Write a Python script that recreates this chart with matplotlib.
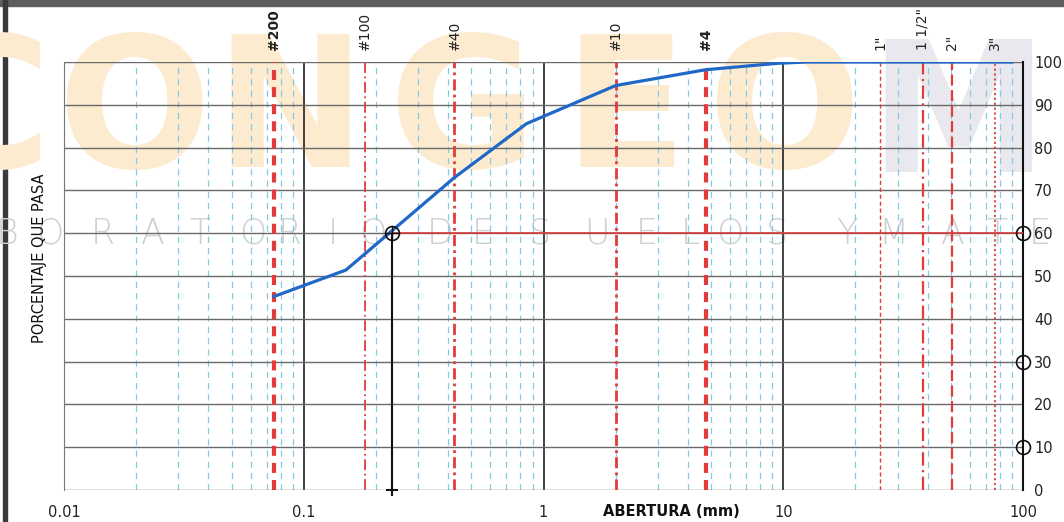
import matplotlib
matplotlib.use("Agg")
import matplotlib.pyplot as plt
import numpy as np

# grain size curve
abertura = [0.075, 0.15, 0.425, 0.85, 2.0, 4.75, 9.5, 12.5, 19.0, 25.0, 37.5, 50.0, 75.0, 90.0]
pasa = [45.2, 51.4, 73.0, 85.6, 94.5, 98.2, 99.7, 100, 100, 100, 100, 100, 100, 100]

# D60 and the right-hand markers
d60 = 0.233
p60 = 60
marcas_der = [60, 30, 10]

# sieves drawn as red lines
tamiz_nombre = ["#200", "#100", "#40", "#10", "#4", '1"', '1 1/2"', '2"', '3"']
tamiz_mm = [0.075, 0.18, 0.425, 2.0, 4.75, 25.4, 38.1, 50.8, 76.2]
tamiz_lw = [3.0, 1.3, 2.0, 2.0, 3.0, 1.0, 1.6, 1.6, 1.3]
tamiz_ls = [(0, (2.4, 1.7)), (0, (6, 2, 1, 2)), (0, (4, 1.5, 1, 1.5)), (0, (4, 1.5, 1, 1.5)),
            (0, (2.4, 1.7)), (0, (3, 2)), (0, (6, 2, 1, 2)), (0, (5, 2)), (0, (1.2, 1.5))]
tamiz_bold = [True, False, False, False, True, False, False, False, False]

x_ticks = [0.01, 0.1, 1, 10, 100]
x_labels = ["0.01", "0.1", "1", "10", "100"]
y_ticks = list(range(0, 101, 10))

W, H = 1064, 522
fig = plt.figure(figsize=(W / 100, H / 100), dpi=100)
fig.patch.set_facecolor("white")

# background axes for the watermark of the scanned sheet
bg = fig.add_axes([0, 0, 1, 1], zorder=-1)
bg.set_xlim(0, W)
bg.set_ylim(H, 0)
bg.axis("off")

wm_letras = ["C", "O", "N", "G", "E", "O"]
wm_x = [-15, 135, 290, 463, 625, 785]
for ch, xx in zip(wm_letras, wm_x):
    bg.text(xx, 167, ch, fontsize=130, fontweight="bold", color="#fdebd0",
            ha="center", va="baseline", family="DejaVu Sans")
bg.text(958, 172, "M", fontsize=130, fontweight="bold", color="#e8e8ee",
        ha="center", va="baseline", family="DejaVu Sans")

lab_letras = list("BORATORIODESUELOSYMATE")
lab_x = [7, 50, 103, 153, 200, 253, 290, 333, 373, 440, 483, 540, 597, 647, 690, 730, 777,
         847, 893, 953, 997, 1040]
for ch, xx in zip(lab_letras, lab_x):
    bg.text(xx, 234, ch, fontsize=25, color="#d0d0d0", ha="center", va="center",
            family="DejaVu Sans", fontweight="light")

# frame of the sheet
bg.add_patch(plt.Rectangle((0, 0), W, 6, color="#5e5e5e"))
bg.add_patch(plt.Rectangle((3, 0), 4, H, color="#3a3a3a"))

ax = fig.add_axes([64 / W, 1 - 490 / H, (1023 - 64) / W, 428 / H], zorder=1)
ax.set_facecolor("none")
ax.set_xscale("log")
ax.set_xlim(0.01, 100)
ax.set_ylim(0, 100)

# light blue minor lines
for dec in [0.01, 0.1, 1, 10]:
    for m in range(2, 10):
        ax.axvline(dec * m, color="#86c9e4", lw=0.9, ls=(0, (5, 4)), zorder=1)

# black decade lines
for xv in [0.1, 1, 10]:
    ax.axvline(xv, color="#222222", lw=1.2, zorder=2)

# horizontal grid
for yv in y_ticks:
    ax.axhline(yv, color="#6a6a6a", lw=1.0, zorder=2)

# sieve lines and labels
for nom, mm, lw, ls, b in zip(tamiz_nombre, tamiz_mm, tamiz_lw, tamiz_ls, tamiz_bold):
    ax.axvline(mm, color="#e23b3b", lw=lw, ls=ls, zorder=3)
    ax.text(mm, 1.028, nom, transform=ax.get_xaxis_transform(), rotation=90, ha="center",
            va="bottom", fontsize=10, fontweight="bold" if b else "normal", color="#222222")

# curve
ax.plot(abertura, pasa, color="#2068c8", lw=2.3, zorder=5, solid_joinstyle="round")

# D60
ax.plot([d60, 100], [p60, p60], color="#d83a3a", lw=1.2, zorder=4)
ax.plot([d60, d60], [0, p60], color="#111111", lw=1.5, zorder=4)
ax.plot([d60], [p60], marker="o", ms=10, mfc="none", mec="#111111", mew=1.2, zorder=6)
ax.plot([d60], [p60], marker="+", ms=10, mec="#111111", mew=1.0, zorder=6)
ax.plot([d60], [0], marker="+", ms=9, mec="#111111", mew=1.5, zorder=6, clip_on=False)
ax.plot([100] * len(marcas_der), marcas_der, ls="none", marker="o", ms=10, mfc="none",
        mec="#111111", mew=1.2, zorder=6, clip_on=False)

for s in ["top", "bottom"]:
    ax.spines[s].set_visible(False)
ax.spines["left"].set_color("#777777")
ax.spines["left"].set_linewidth(0.8)
ax.spines["right"].set_color("#111111")
ax.spines["right"].set_linewidth(1.5)

ax.set_xticks(x_ticks)
ax.set_xticklabels(x_labels)
ax.xaxis.set_minor_locator(matplotlib.ticker.NullLocator())
ax.tick_params(axis="x", length=0, pad=11, labelsize=10.5, labelcolor="#222222")
ax.set_yticks(y_ticks)
ax.yaxis.tick_right()
ax.tick_params(axis="y", length=0, pad=8, labelsize=10.5, labelcolor="#222222")

fig.text(671 / W, 1 - 512 / H, "ABERTURA (mm)", fontsize=10.5, fontweight="bold",
         ha="center", va="center", color="#111111")
fig.text(40 / W, 1 - 258 / H, "PORCENTAJE QUE PASA", fontsize=10.5, rotation=90,
         ha="center", va="center", color="#111111")

fig.savefig("out.png", dpi=100)
